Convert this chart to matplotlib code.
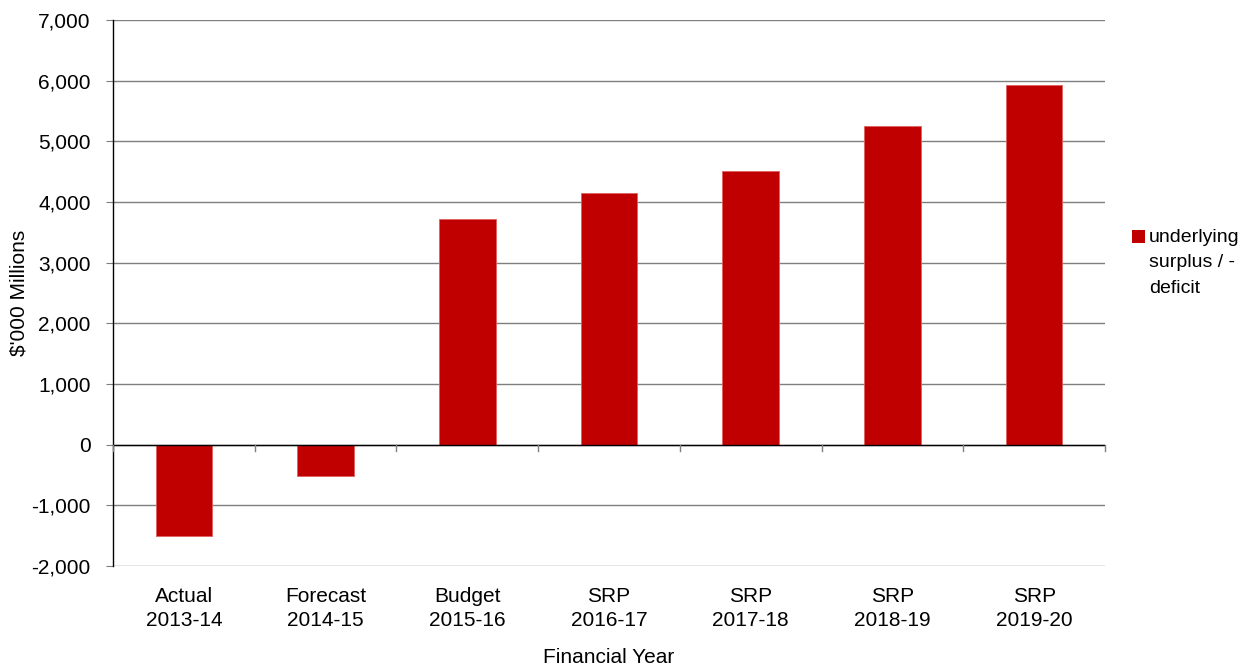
import matplotlib.pyplot as plt
from matplotlib.patches import Rectangle

years = ['Actual\n2013-14', 'Forecast\n2014-15', 'Budget\n2015-16', 'SRP\n2016-17',
         'SRP\n2017-18', 'SRP\n2018-19', 'SRP\n2019-20']
surplus = [-1500, -520, 3720, 4150, 4510, 5260, 5930]
seriesName = 'underlying\nsurplus / -\ndeficit'

plt.rcParams['font.family'] = ['Liberation Sans', 'DejaVu Sans']
plt.rcParams['font.size'] = 15

barColour = '#c00000'

fig = plt.figure(figsize=(12.5, 6.68), dpi=100)
ax = fig.add_axes([0.0904, 0.1527, 0.7936, 0.8173])

x = range(len(years))
ax.bar(x, surplus, width=0.4, color=barColour, edgecolor='#e06060', linewidth=0.6, zorder=3)

ax.set_xlim(-0.5, len(years) - 0.5)
ax.set_ylim(-2000, 7000)
ax.set_yticks(range(-2000, 7001, 1000))
ax.set_yticklabels([f'{v:,}' for v in range(-2000, 7001, 1000)])
ax.yaxis.grid(True, color='#7f7f7f', linewidth=1.0)
ax.set_axisbelow(True)

for s in ['top', 'right', 'bottom']:
    ax.spines[s].set_visible(False)
ax.spines['left'].set_color('black')
ax.spines['left'].set_linewidth(1.0)
ax.axhline(0, color='black', linewidth=1.0, zorder=4)

# category separators hang below the zero line
for b in [i - 0.5 for i in range(len(years) + 1)]:
    ax.plot([b, b], [0, -110], color='#7f7f7f', linewidth=1.0, zorder=4, clip_on=False)

ax.tick_params(axis='y', length=5, color='#7f7f7f', pad=11)
ax.tick_params(axis='x', length=0, pad=15)
ax.set_xticks(list(x))
ax.set_xticklabels(years, linespacing=1.35)

ax.set_ylabel("$'000 Millions", labelpad=2)
ax.set_xlabel('Financial Year', labelpad=13)

# legend: swatch beside a three-line label, aligned on the first line
fig.patches.append(Rectangle((0.9056, 0.636), 0.0104, 0.0195, transform=fig.transFigure,
                             facecolor=barColour, edgecolor='none'))
fig.text(0.919, 0.6575, seriesName, ha='left', va='top', fontsize=14, linespacing=1.65)

fig.savefig('out.png', dpi=100)
